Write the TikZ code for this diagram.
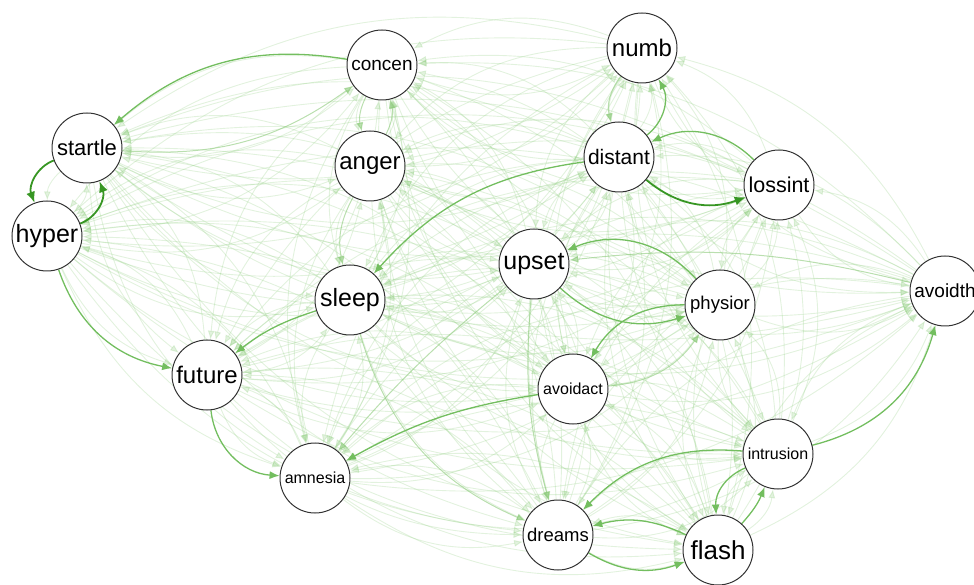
\documentclass[tikz,border=0pt]{standalone}
\usepackage{fontspec}
\setmainfont{Liberation Sans}
\usepackage{xcolor}
\usetikzlibrary{arrows.meta, backgrounds}

\definecolor{edgefaint}{RGB}{150,208,135}
\definecolor{edgelight}{RGB}{140,202,122}
\definecolor{edgemid}{RGB}{115,190,95}
\definecolor{edgedark}{RGB}{55,150,35}

\begin{document}
\begin{tikzpicture}[x=1pt, y=1pt,
    sym/.style={circle, draw=black!80, line width=1pt, fill=white,
        minimum size=70pt, inner sep=0pt},
    fs/.style={font=\fontsize{#1}{#1}\selectfont},
    faint/.style={draw=edgefaint, opacity=0.28, line width=0.9pt,
        -{Latex[length=9pt,width=7pt,color=edgefaint]}, bend right=24},
    light/.style={draw=edgelight, opacity=0.6, line width=1pt,
        -{Latex[length=9pt,width=7pt,color=edgelight]}},
    mid/.style={draw=edgemid, line width=1.3pt,
        -{Latex[length=10pt,width=8pt,color=edgemid]}},
    strong/.style={draw=edgedark, line width=1.8pt,
        -{Latex[length=11pt,width=9pt,color=edgedark]}}]
    \useasboundingbox (0,0) rectangle (974,584);
    % symptoms
    \node (startle)[sym, fs=22] at (87,436) {startle};
    \node (hyper)[sym, fs=25] at (47,348) {hyper};
    \node (concen)[sym, fs=19] at (382,519) {concen};
    \node (numb)[sym, fs=24] at (642,536) {numb};
    \node (anger)[sym, fs=24] at (370,418) {anger};
    \node (distant)[sym, fs=21] at (619,427) {distant};
    \node (lossint)[sym, fs=21.5] at (779,399) {lossint};
    \node (upset)[sym, fs=25] at (534,320) {upset};
    \node (sleep)[sym, fs=25] at (350,284) {sleep};
    \node (physior)[sym, fs=18.5] at (720,279) {physior};
    \node (avoidth)[sym, fs=19] at (945,293) {avoidth};
    \node (future)[sym, fs=24] at (207,209) {future};
    \node (avoidact)[sym, fs=16] at (573,195) {avoidact};
    \node (intrusion)[sym, fs=16] at (778,130) {intrusion};
    \node (amnesia)[sym, fs=16] at (315,106) {amnesia};
    \node (dreams)[sym, fs=18.5] at (558,49) {dreams};
    \node (flash)[sym, fs=26] at (718,34) {flash};

    \begin{scope}[on background layer]
    % all weak edges
    \foreach \a in {startle,hyper,concen,numb,anger,distant,lossint,upset,sleep,
        physior,avoidth,future,avoidact,intrusion,amnesia,dreams,flash}
    {\foreach \b in {startle,hyper,concen,numb,anger,distant,lossint,upset,sleep,
        physior,avoidth,future,avoidact,intrusion,amnesia,dreams,flash}
        {\ifx\a\b\else \path[faint] (\a) edge (\b); \fi}}
    % visible edges
    \path[light]
        (startle) edge [bend right=20] (concen)
        (anger) edge [bend right=20] (concen)
        (concen) edge [bend right=20] (anger)
        (anger) edge [bend right=20] (sleep)
        (upset) edge [bend right=5] (amnesia)
        (sleep) edge [bend right=25] (dreams)
        (upset) edge [bend right=10] (dreams)
        (avoidact) edge [bend right=25] (physior)
        (numb) edge [bend right=25] (distant)
        (avoidth) edge [bend right=10] (upset);
    \path[mid]
        (concen) edge [bend right=25] (startle)
        (hyper) edge [bend right=30] (future)
        (sleep) edge [bend right=10] (future)
        (future) edge [bend right=40] (amnesia)
        (avoidact) edge [bend right=10] (amnesia)
        (distant) edge [bend right=20] (sleep)
        (distant) edge [bend right=40] (numb)
        (lossint) edge [bend right=35] (distant)
        (physior) edge [bend right=35] (upset)
        (upset) edge [bend right=30] (physior)
        (physior) edge [bend right=30] (avoidact)
        (intrusion) edge [bend right=25] (dreams)
        (intrusion) edge [bend right=35] (flash)
        (flash) edge [bend right=10] (intrusion)
        (flash) edge [bend right=20] (dreams)
        (dreams) edge [bend right=25] (flash)
        (intrusion) edge [bend right=30] (avoidth);
    \path[strong]
        (startle) edge [bend right=45] (hyper)
        (hyper) edge [bend right=45] (startle)
        (distant) edge [bend right=30] (lossint);
    \end{scope}
\end{tikzpicture}
\end{document}
